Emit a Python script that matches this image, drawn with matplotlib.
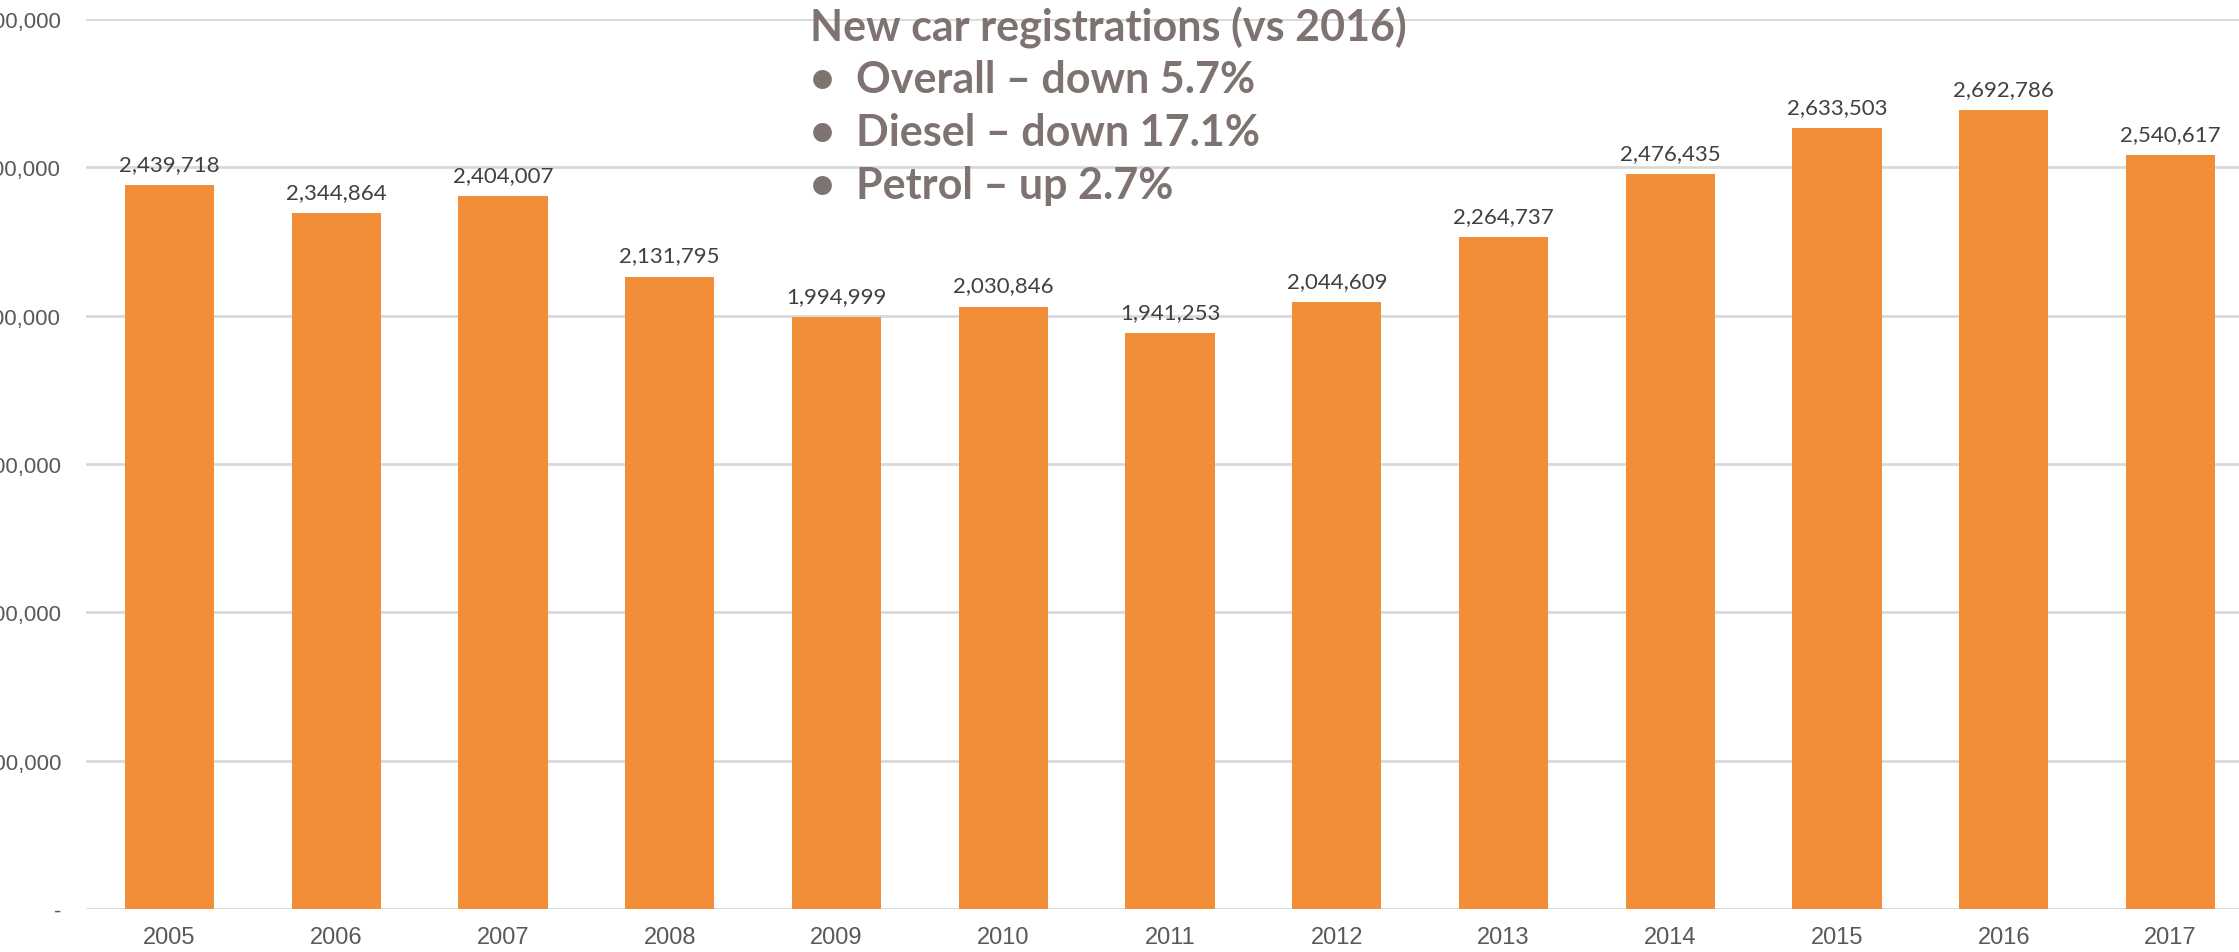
import matplotlib
matplotlib.use("Agg")
import matplotlib.pyplot as plt
from matplotlib.ticker import FuncFormatter

years = ["2005", "2006", "2007", "2008", "2009", "2010", "2011",
         "2012", "2013", "2014", "2015", "2016", "2017"]
registrations = [2439718, 2344864, 2404007, 2131795, 1994999, 2030846, 1941253,
                 2044609, 2264737, 2476435, 2633503, 2692786, 2540617]
y_ticks = [0, 500000, 1000000, 1500000, 2000000, 2500000, 3000000]
note_lines = ["New car registrations (vs 2016)",
              "\u2022  Overall \u2013 down 5.7%",
              "\u2022  Diesel \u2013 down 17.1%",
              "\u2022  Petrol \u2013 up 2.7%"]

fig = plt.figure(figsize=(22.39, 9.53), dpi=100)
# axes run past the right edge, like the cropped original
ax = fig.add_axes([86/2239, 43/953, 2168/2239, 890/953])

x = range(len(years))
bars = ax.bar(x, registrations, width=0.535, color="#F28E38", zorder=3)

ax.set_xlim(-0.5, len(years) - 0.5)
ax.set_ylim(0, 3000000)
ax.set_yticks(y_ticks)
ax.yaxis.set_major_formatter(FuncFormatter(lambda v, p: "-" if v == 0 else f"{int(v):,}"))
ax.set_xticks(list(x))
ax.set_xticklabels(years)
ax.grid(axis="y", color="#D9D9D9", linewidth=2, zorder=0)
for s in ax.spines.values():
    s.set_visible(False)
ax.tick_params(axis="both", length=0, labelcolor="#595959")
ax.tick_params(axis="y", pad=18, labelsize=16)
ax.tick_params(axis="x", pad=12, labelsize=17)
for lab in ax.get_xticklabels() + ax.get_yticklabels():
    lab.set_family("Liberation Sans")

for xi, v in zip(x, registrations):
    ax.annotate(f"{v:,}", (xi, v), xytext=(0, 8), textcoords="offset points",
                ha="center", va="bottom", fontsize=16, color="#404040",
                family="Lato")

for i, line in enumerate(note_lines):
    fig.text(810/2239, 1 - (7 + i*53)/953, line, ha="left", va="top",
             fontsize=31, fontweight="bold", color="#7E7370", family="Lato")

fig.savefig("out.png", dpi=100)
